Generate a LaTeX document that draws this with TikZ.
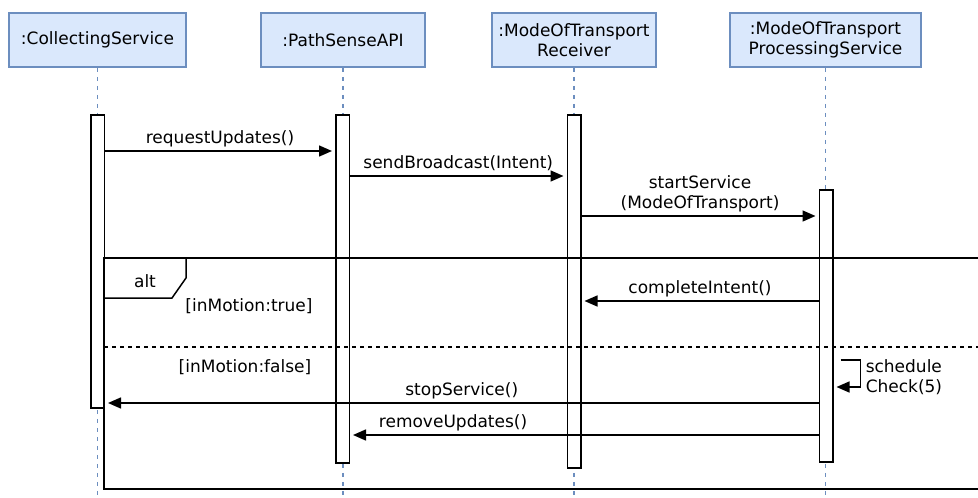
\documentclass[tikz,border=0pt]{standalone}
\usepackage{fontspec}
\setmainfont{DejaVu Sans}
\usetikzlibrary{arrows.meta, positioning}
\definecolor{objfill}{HTML}{DAE8FC}
\definecolor{objline}{HTML}{6C8EBF}

\begin{document}
\begin{tikzpicture}[x=1pt, y=-1pt, line width=1.5pt, font=\fontsize{17}{20}\selectfont]
\tikzstyle{objet}=[draw=objline, fill=objfill, minimum height=54pt, inner sep=0pt, align=center]
\tikzstyle{activ}=[draw, fill=white, minimum width=13.5pt, inner sep=0pt]
\tikzstyle{vie}=[draw=objline, dash pattern=on 4.5pt off 4.5pt]
\tikzstyle{msg}=[-{Triangle[length=13pt,width=11pt]}, shorten >=3pt]
\tikzstyle{lbl}=[above=3pt, inner sep=0pt, text depth=4pt, align=center]
\tikzstyle{garde}=[inner sep=0pt]

\useasboundingbox (0,0) rectangle (978,498);

% objets
\node[objet, minimum width=177pt] (collect) at (97.5,40) {:CollectingService};
\node[objet, minimum width=164pt] (pathsense) at (343,40) {:PathSenseAPI};
\node[objet, minimum width=164pt] (receiver) at (574,40) {:ModeOfTransport\\Receiver};
\node[objet, minimum width=191pt] (processing) at (825.5,40) {:ModeOfTransport\\ProcessingService};

% lignes de vie
\foreach \o in {collect, pathsense, receiver, processing}
  \draw[vie] (\o.south) -- (\o.south |- 0,498);

% activations
\node[activ, minimum height=293pt] (actC) at (97.5,261.5) {};
\node[activ, minimum height=348pt] (actP) at (342.5,289) {};
\node[activ, minimum height=353pt] (actR) at (574,291.5) {};
\node[activ, minimum height=272pt] (actT) at (826,326) {};

% messages
\path[msg]
  (actC.east |- 0,151) edge node[lbl]{requestUpdates()} (actP.west |- 0,151)
  (actP.east |- 0,176) edge node[lbl]{sendBroadcast(Intent)} (actR.west |- 0,176)
  (actR.east |- 0,216) edge node[lbl]{startService\\(ModeOfTransport)} (actT.west |- 0,216)
  (actT.west |- 0,301) edge node[lbl]{completeIntent()} (actR.east |- 0,301)
  (actT.west |- 0,403) edge node[lbl]{stopService()} (actC.east |- 0,403)
  (actT.west |- 0,435) edge node[lbl, pos=0.78]{removeUpdates()} (actP.east |- 0,435);

% appel sur soi
\coordinate (boucle) at ([xshift=7pt]actT.east |- 0,360);
\draw[msg] (boucle) -- ++(20,0) -- ++(0,27) -- (actT.east |- 0,387);
\node[anchor=west, align=left, inner sep=0pt] (check) at (865,377.5) {schedule\\Check(5)};

% fragment alt
\draw (978,258) -- (104,258) -- (104,489) -- (978,489);
\draw (186,258) -- (186,278) -- (172,298) -- (104,298);
\node (alt) at (145,281) {alt};
\node[garde] (vrai) at (249,306) {[inMotion:true]};
\draw[line width=1.2pt, dash pattern=on 4pt off 4pt] (104,347) -- (978,347);
\node[garde] (faux) at (245,367) {[inMotion:false]};
\end{tikzpicture}
\end{document}
